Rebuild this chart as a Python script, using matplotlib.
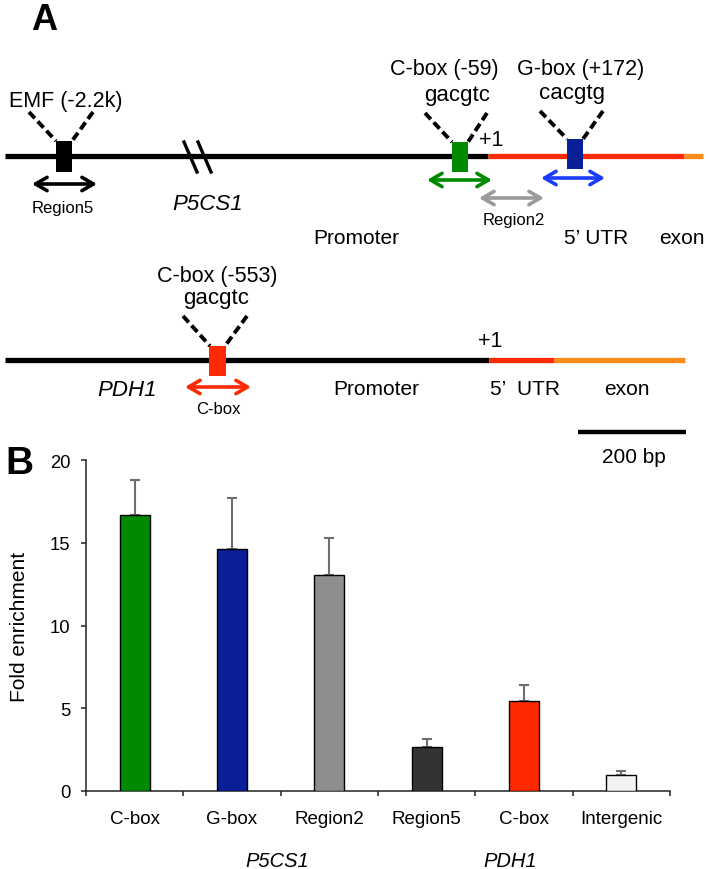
import matplotlib
matplotlib.use("Agg")
import matplotlib.pyplot as plt
from matplotlib.patches import Rectangle
import matplotlib.transforms as mtransforms
import numpy as np

plt.rcParams['font.family'] = ['Liberation Sans', 'DejaVu Sans']

# ---------------- data (panel B) ----------------
categories = ['C-box', 'G-box', 'Region2', 'Region5', 'C-box', 'Intergenic']
values = [16.7, 14.65, 13.05, 2.68, 5.42, 0.98]
errors = [2.1, 3.05, 2.25, 0.47, 1.0, 0.22]
bar_colors = ['#008a00', '#0a1e96', '#8e8e8e', '#333333', '#ff2a00', '#f2f2f2']
group_labels = ['P5CS1', 'PDH1']
y_ticks = [0, 5, 10, 15, 20]

# ---------------- layout ----------------
W, H = 708, 870
fig = plt.figure(figsize=(W / 100, H / 100), dpi=100)

# overlay axes in pixel coordinates for the schematic (panel A)
ov = fig.add_axes([0, 0, 1, 1])
ov.set_xlim(0, W)
ov.set_ylim(H, 0)
ov.axis('off')
ov.patch.set_visible(False)

RED = '#ff2a00'
ORANGE = '#ff8c1a'
GREEN = '#008a00'
NAVY = '#0a1e96'
BLUE = '#1a3cff'
GRAY = '#9a9a9a'

def seg(x0, x1, y, c, lw=3.8):
    ov.plot([x0, x1], [y, y], color=c, lw=lw, solid_capstyle='butt', zorder=2)

def box(x0, x1, y0, y1, c):
    ov.add_patch(Rectangle((x0, y0), x1 - x0, y1 - y0, facecolor=c, edgecolor='none', zorder=4))

def dashed(p0, p1):
    ov.plot([p0[0], p1[0]], [p0[1], p1[1]], color='black', lw=2.8,
            linestyle=(0, (2.2, 1.1)), dash_capstyle='butt', zorder=3)

def darrow(x0, x1, y, c):
    ov.annotate('', xy=(x1, y), xytext=(x0, y),
                arrowprops=dict(arrowstyle='<->,head_length=0.55,head_width=0.32',
                                lw=2.6, color=c, shrinkA=0, shrinkB=0,
                                mutation_scale=15), zorder=3)

def txt(x, y, s, size=15, **kw):
    ov.text(x, y, s, fontsize=size, ha='center', va='center', **kw)

# ---- P5CS1 line ----
yl1 = 157
seg(5, 488, yl1, 'black')
seg(488, 684, yl1, RED)
seg(684, 703, yl1, ORANGE)
# break marks
ov.plot([184, 197], [143, 173], color='black', lw=2.4, zorder=3)
ov.plot([198, 211], [143, 173], color='black', lw=2.4, zorder=3)
# EMF
box(56, 72, 142, 173, 'black')
dashed((29, 113), (56, 142))
dashed((93, 113), (72, 142))
txt(66, 101, 'EMF (-2.2k)', 15.5)
darrow(32, 97, 185, 'black')
txt(63, 209, 'Region5', 12)
txt(208, 204, 'P5CS1', 16, style='italic')
# C-box (-59)
box(452, 468, 143, 173, GREEN)
dashed((425, 114), (452, 143))
dashed((487, 114), (468, 143))
txt(444, 70, 'C-box (-59)', 15.5)
txt(457, 95, 'gacgtc', 16)
txt(491, 141, '+1', 15.5)
darrow(427, 492, 181, GREEN)
# G-box (+172)
box(567, 583, 140, 170, NAVY)
dashed((540, 112), (567, 140))
dashed((603, 112), (583, 140))
txt(581, 70, 'G-box (+172)', 15.5)
txt(572, 93, 'cacgtg', 16)
darrow(541, 605, 179, BLUE)
darrow(479, 544, 199, GRAY)
txt(514, 220, 'Region2', 12)
txt(356, 239, 'Promoter', 15)
txt(596, 239, '5’ UTR', 15)
txt(682, 239, 'exon', 15)

# ---- PDH1 line ----
yl2 = 361
seg(5, 489, yl2, 'black')
seg(489, 554, yl2, RED)
seg(554, 685, yl2, ORANGE)
box(209, 226, 347, 377, RED)
dashed((183, 317), (210, 347))
dashed((247, 317), (225, 347))
txt(217, 277, 'C-box (-553)', 15.5)
txt(216, 299, 'gacgtc', 16)
txt(490, 342, '+1', 15.5)
darrow(185, 251, 388, RED)
txt(218, 410, 'C-box', 12)
txt(127, 391, 'PDH1', 16, style='italic')
txt(376, 390, 'Promoter', 15)
txt(525, 390, '5’  UTR', 15)
txt(627, 390, 'exon', 15)
# scale bar
seg(578, 686, 433, 'black', lw=3.2)
txt(634, 458, '200 bp', 15)

# panel letters
ov.text(44, 3, 'A', fontsize=26, fontweight='bold', ha='center', va='top')
txt(19, 464, 'B', 28, fontweight='bold')

# ---------------- panel B: bar chart ----------------
ax_l, ax_r, ax_t, ax_b = 86, 670, 461, 792
ax = fig.add_axes([ax_l / W, 1 - ax_b / H, (ax_r - ax_l) / W, (ax_b - ax_t) / H])
ax.patch.set_visible(False)
n = len(categories)
x = np.arange(n) + 0.5
ax.errorbar(x, values, yerr=[np.zeros(n), errors], fmt='none', ecolor='#6e6e6e',
            elinewidth=1.5, capsize=3.3, capthick=1.5, zorder=2)
ax.bar(x, values, width=0.31, color=bar_colors, edgecolor='black', linewidth=1.0, zorder=3)
ax.set_xlim(0, n)
ax.set_ylim(0, 20)
for s in ['top', 'right']:
    ax.spines[s].set_visible(False)
for s in ['left', 'bottom']:
    ax.spines[s].set_linewidth(1.1)
    ax.spines[s].set_color('#222222')
ax.set_yticks(y_ticks)
ax.set_yticklabels([str(t) for t in y_ticks])
ax.tick_params(axis='y', direction='out', length=3.6, width=1.1, pad=7.5,
               labelsize=13.3, color='#222222')
ax.set_xticks(np.arange(n + 1))
ax.set_xticklabels([])
ax.set_xticks(x, minor=True)
ax.set_xticklabels(categories, minor=True)
ax.tick_params(axis='x', which='major', direction='out', length=3.6, width=1.1, color='#222222')
ax.tick_params(axis='x', which='minor', length=0, pad=13.5, labelsize=13.5)

fig.text(19.5 / W, 1 - 626.5 / H, 'Fold enrichment', rotation=90, ha='center',
         va='center', fontsize=15)

# group labels: x in data units, y at fixed pixel position below the axis
group_pos = [1.96, 4.36]
gtrans = mtransforms.blended_transform_factory(ax.transData, fig.transFigure)
for gx, gl in zip(group_pos, group_labels):
    ax.text(gx, 1 - 862 / H, gl, transform=gtrans, ha='center', va='center',
            fontsize=14.5, style='italic')

fig.savefig('out.png', dpi=100)
